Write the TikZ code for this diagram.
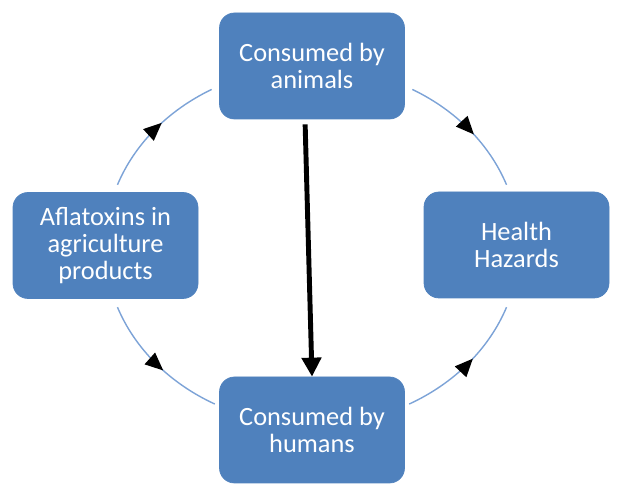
\documentclass[tikz,border=0pt]{standalone}
\usepackage{fontspec}
\setmainfont{Carlito}
\usepackage[rgb]{xcolor}
\definecolor{boxblue}{RGB}{79,129,189}
\definecolor{ringblue}{RGB}{125,163,215}
\usepackage{tikz}
\usetikzlibrary{arrows.meta,decorations.markings}

\begin{document}
\begin{tikzpicture}[
  box/.style={rectangle,rounded corners=3mm,fill=boxblue,draw=boxblue,text=white,
    minimum width=3.7cm,minimum height=2.12cm,align=center,
    font=\fontsize{15}{15.5}\selectfont},
  flow/.style={ringblue,line width=0.8pt,
    postaction={decorate},
    decoration={markings,mark=at position 0.56 with
      {\arrow[black]{Triangle[length=3.6mm,width=3.1mm]}}}},
  bigarrow/.style={black,line width=2.8pt,-{Triangle[length=3.8mm,width=3.8mm]}}
]
\useasboundingbox (0,0) rectangle (12.36,9.68);

% centre of the ring
\coordinate (c) at (6.24,4.76);

% the ring
\foreach \from/\to in {160/119, 61/20, 200/242, 298/340}
    \draw[flow] ([shift={(\from:4.14cm and 3.58cm)}]c)
        arc[start angle=\from, end angle=\to, x radius=4.14cm, y radius=3.58cm];

% the four stages
\node[box] (animals) at (6.24,8.36) {Consumed by\\animals};
\node[box] (agri)    at (2.11,4.77) {Aflatoxins in\\agriculture\\products};
\node[box] (hazards) at (10.33,4.78) {Health\\Hazards};
\node[box] (humans)  at (6.24,1.08) {Consumed by\\humans};

% the direct path
\draw[bigarrow,shorten <=1mm] ([xshift=-1.4mm]animals.south) -- (humans.north);

\end{tikzpicture}
\end{document}
